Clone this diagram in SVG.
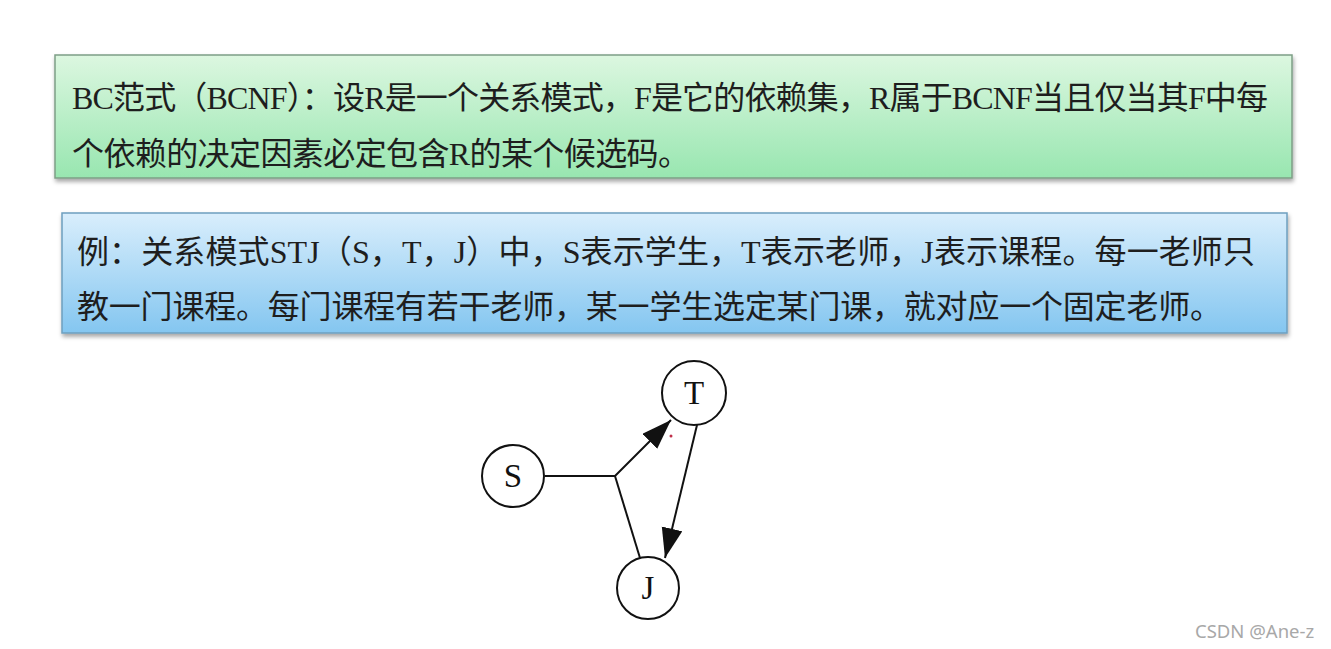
<svg xmlns="http://www.w3.org/2000/svg" width="1331" height="649" viewBox="0 0 1331 649">
<style>
.box-text{font-family:"Liberation Serif","Noto Sans CJK SC",serif;font-size:32px;fill:#1e1e1e;}
.node circle{fill:#ffffff;stroke:#111111;stroke-width:2;}
.node text{font-family:"Liberation Serif",serif;font-size:33px;fill:#111111;text-anchor:middle;}
.edge{fill:none;stroke:#111111;stroke-width:2;}
.wm{font-family:"Noto Sans","DejaVu Sans",sans-serif;font-size:18.5px;fill:#a8a8a8;}
</style>
<defs>
<linearGradient id="gGreen" x1="0" y1="0" x2="0" y2="1">
<stop offset="0" stop-color="#dcf7e0"/>
<stop offset="1" stop-color="#98e6b0"/>
</linearGradient>
<linearGradient id="gBlue" x1="0" y1="0" x2="0" y2="1">
<stop offset="0" stop-color="#d9eefc"/>
<stop offset="1" stop-color="#84c6f0"/>
</linearGradient>
<filter id="shadow" x="-5%" y="-10%" width="110%" height="130%">
<feDropShadow dx="1" dy="3" stdDeviation="2" flood-color="#000" flood-opacity="0.35"/>
</filter>
<marker id="arrow" markerUnits="userSpaceOnUse" markerWidth="31" markerHeight="22" refX="30" refY="10.5" orient="auto">
<path d="M0,0 L30,10.5 L0,21 z" fill="#111111"/>
</marker>
</defs>
<rect width="1331" height="649" fill="#ffffff"/>

<g id="definition-box">
<rect x="55" y="55" width="1237" height="123" fill="url(#gGreen)" stroke="#7e9e86" stroke-width="1.5" filter="url(#shadow)"/>
<text class="box-text" x="72" y="109" textLength="1196" lengthAdjust="spacing">BC范式（BCNF）：设R是一个关系模式，F是它的依赖集，R属于BCNF当且仅当其F中每</text>
<text class="box-text" x="72" y="165" textLength="618" lengthAdjust="spacing">个依赖的决定因素必定包含R的某个候选码。</text>
</g>

<g id="example-box">
<rect x="62" y="213" width="1225" height="120" fill="url(#gBlue)" stroke="#6e9fbf" stroke-width="1.5" filter="url(#shadow)"/>
<text class="box-text" x="77" y="263" textLength="1178" lengthAdjust="spacing">例：关系模式STJ（S，T，J）中，S表示学生，T表示老师，J表示课程。每一老师只</text>
<text class="box-text" x="77" y="318" textLength="1145" lengthAdjust="spacing">教一门课程。每门课程有若干老师，某一学生选定某门课，就对应一个固定老师。</text>
</g>

<g id="connectors">
<path class="edge" d="M545,476 L615,476 L671,420" marker-end="url(#arrow)"/>
<path class="edge" d="M615,476 L640,558"/>
<path class="edge" d="M697,425 L665,558" marker-end="url(#arrow)"/>
</g>

<g id="node-S" class="node">
<circle cx="513" cy="476" r="31"/>
<text x="513" y="487">S</text>
</g>
<g id="node-T" class="node">
<circle cx="694" cy="393" r="32"/>
<text x="694" y="404">T</text>
</g>
<g id="node-J" class="node">
<circle cx="648" cy="588" r="31"/>
<text x="648" y="599">J</text>
</g>

<circle cx="671" cy="436" r="1.5" fill="#c0304a"/>

<text class="wm" x="1195" y="638">CSDN @Ane-z</text>
</svg>
